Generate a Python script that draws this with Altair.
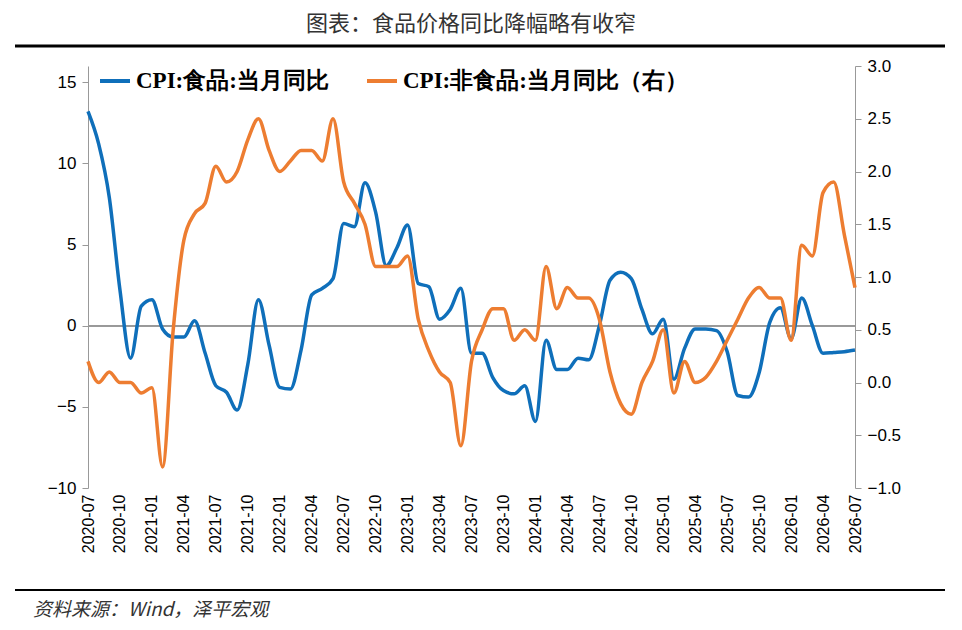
import altair as alt
import pandas as pd

start = pd.Period("2020-07", freq="M")
months = [str(start + i) for i in range(73)]

food = [13.2, 11.2, 7.9, 2.2, -2.0, 1.2, 1.6, -0.2, -0.7, -0.7, 0.3, -1.7, -3.7, -4.1, -5.2,
        -2.4, 1.6, -1.2, -3.8, -3.9, -1.5, 1.9, 2.3, 2.9, 6.3, 6.1, 8.8, 7.0, 3.7, 4.8, 6.2,
        2.6, 2.4, 0.4, 1.0, 2.3, -1.7, -1.7, -3.2, -4.0, -4.2, -3.7, -5.9, -0.9, -2.7, -2.7,
        -2.0, -2.1, 0.0, 2.8, 3.3, 2.9, 1.0, -0.5, 0.4, -3.3, -1.4, -0.2, -0.2, -0.3, -1.6,
        -4.3, -4.4, -2.9, 0.2, 1.1, -0.8, 1.7, 0.0, -1.7, -1.65, -1.6, -1.5]
nonfood = [0.2, 0.0, 0.1, 0.0, 0.0, -0.1, -0.05, -0.8, 0.5, 1.35, 1.6, 1.7, 2.05, 1.9, 2.0,
           2.3, 2.5, 2.2, 2.0, 2.1, 2.2, 2.2, 2.1, 2.5, 1.9, 1.7, 1.5, 1.1, 1.1, 1.1, 1.2,
           0.6, 0.3, 0.1, 0.0, -0.6, 0.2, 0.5, 0.7, 0.7, 0.4, 0.5, 0.4, 1.1, 0.7, 0.9, 0.8,
           0.8, 0.6, 0.1, -0.2, -0.3, 0.0, 0.2, 0.5, -0.1, 0.2, 0.0, 0.05, 0.2, 0.4, 0.6,
           0.8, 0.9, 0.8, 0.8, 0.4, 1.3, 1.2, 1.8, 1.9, 1.4, 0.9]

s_food = "CPI:食品:当月同比"
s_non = "CPI:非食品:当月同比（右）"

df = pd.DataFrame({"month": months, "food": food, "nonfood": nonfood})
tick_months = months[::3]

font = "Noto Sans CJK SC"
color = alt.Color("series:N",
                  scale=alt.Scale(domain=[s_food, s_non], range=["#0F6FBA", "#ED7D31"]),
                  legend=alt.Legend(title=None, orient="none", legendX=10, legendY=-2,
                                    direction="horizontal", symbolType="stroke",
                                    symbolStrokeWidth=4, symbolSize=900, columnPadding=30,
                                    labelFont="Liberation Serif", labelFontSize=23,
                                    labelFontWeight="bold", labelColor="black", labelLimit=400))

x = alt.X("month:O", title=None, sort=months,
          scale=alt.Scale(type="point", padding=0),
          axis=alt.Axis(values=tick_months, labelAngle=270, labelFontSize=16, labelFont="Liberation Sans",
                        labelColor="black", domain=False, ticks=False, labelPadding=6))

base = alt.Chart(df)

left = base.transform_calculate(series=f"'{s_food}'").mark_line(
    strokeWidth=3.5, interpolate="monotone").encode(
    x=x,
    y=alt.Y("food:Q", title=None, scale=alt.Scale(domain=[-10, 15]),
            axis=alt.Axis(values=[-10, -5, 0, 5, 10, 15], grid=False, labelFontSize=17,
                          labelFont="Liberation Sans", labelColor="black", domainColor="#999",
                          tickColor="#999", tickSize=6, labelPadding=6)),
    color=color)

zero = base.mark_rule(color="#999", strokeWidth=1.5).encode(y=alt.datum(0))

right = base.transform_calculate(series=f"'{s_non}'").mark_line(
    strokeWidth=3.5, interpolate="monotone").encode(
    x=x,
    y=alt.Y("nonfood:Q", title=None, scale=alt.Scale(domain=[-1, 3]),
            axis=alt.Axis(orient="right", values=[-1, -0.5, 0, 0.5, 1, 1.5, 2, 2.5, 3],
                          format=".1f", grid=False, labelFontSize=17, labelFont="Liberation Sans",
                          labelColor="black", domainColor="#999", tickColor="#999", tickSize=6,
                          labelPadding=6)),
    color=color)

deco = alt.Chart(pd.DataFrame({"a": [0]}))
title = deco.mark_text(text="图表：食品价格同比降幅略有收窄", align="center", baseline="middle",
                       font=font, fontSize=22, color="#333").encode(x=alt.value(383), y=alt.value(-42))
top_line = deco.mark_rule(color="black", strokeWidth=3).encode(
    x=alt.value(-73), x2=alt.value(857), y=alt.value(-20))
bottom_line = deco.mark_rule(color="black", strokeWidth=2).encode(
    x=alt.value(-73), x2=alt.value(857), y=alt.value(524))
source = deco.mark_text(text="资料来源：Wind，泽平宏观", align="left", baseline="middle", font=font,
                        fontSize=19, fontStyle="italic", color="#333").encode(x=alt.value(-55), y=alt.value(544))

chart = alt.layer(
    alt.layer(zero, left), right, title, top_line, bottom_line, source
).resolve_scale(y="independent").properties(
    width=767, height=422,
).configure_view(stroke=None)

chart.save("out.html", embed_options={"renderer": "svg", "actions": False})
